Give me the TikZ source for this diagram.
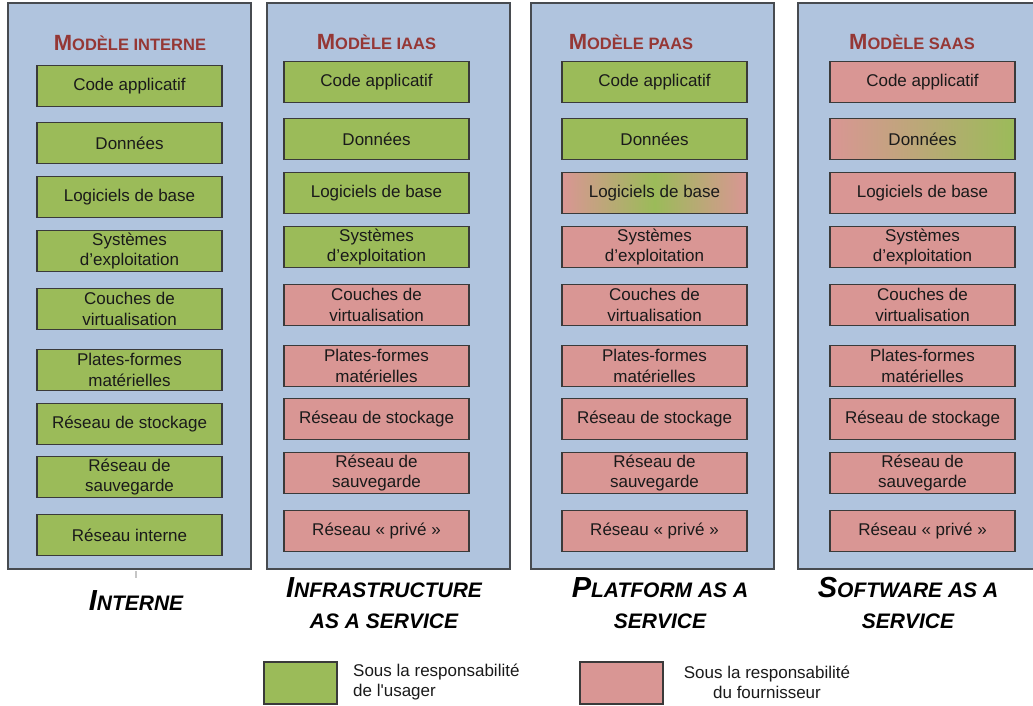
\documentclass[tikz,border=0pt]{standalone}
\usepackage{fontspec}
\setmainfont{Liberation Sans}
\usetikzlibrary{shadings}
\definecolor{panelbg}{HTML}{B0C4DE}
\definecolor{panelline}{HTML}{474B50}
\definecolor{usr}{HTML}{9BBB59}
\definecolor{frn}{HTML}{D99694}
\definecolor{hdrred}{HTML}{953735}
\definecolor{txt}{HTML}{1A1A1A}
\definecolor{boxline}{HTML}{3A3A3A}
\newcommand\hdrtxt[2]{{\fontsize{22}{26}\selectfont #1}{\fontsize{16.5}{19}\selectfont #2}}
\newcommand\labbig[2]{{\fontsize{29}{31}\selectfont #1}{\fontsize{21}{31}\selectfont #2}}
\newcommand\labsml[1]{{\fontsize{21}{31}\selectfont #1}}
\tikzset{
  panel/.style={draw=panelline, line width=1.4pt, fill=panelbg, minimum width=243pt, minimum height=566pt, inner sep=0pt},
  cell/.style={draw=boxline, line width=1.1pt, minimum width=185pt, minimum height=41pt, inner sep=0pt, align=center, text=txt, font=\fontsize{17}{20.5}\selectfont},
  ucell/.style={cell, fill=usr},
  fcell/.style={cell, fill=frn},
  hdr/.style={text=hdrred, font=\bfseries, inner sep=0pt},
  blab/.style={font=\bfseries\itshape, align=center, inner sep=0pt, text=black},
  legbox/.style={draw=boxline, line width=1.1pt, minimum height=42pt, inner sep=0pt},
  legtxt/.style={font=\fontsize{17}{20}\selectfont, text=txt, inner sep=0pt}
}
\begin{document}
\begin{tikzpicture}[x=1pt,y=-1pt]
\useasboundingbox (0,0) rectangle (1033,706);
% panels
\node[panel] (p1) at (129.5,286) {};
\node[panel] (p2) at (388.5,286) {};
\node[panel] (p3) at (652.5,286) {};
\node[panel] (p4) at (919.5,286) {};
% headers
\node[hdr] (h1) at (130,43) {\hdrtxt{M}{ODÈLE INTERNE}};
\node[hdr] (h2) at (376.5,42) {\hdrtxt{M}{ODÈLE IAAS}};
\node[hdr] (h3) at (631,42) {\hdrtxt{M}{ODÈLE PAAS}};
\node[hdr] (h4) at (912,42) {\hdrtxt{M}{ODÈLE SAAS}};
% panel 1
\node[ucell] (a1) at (129.5,86) {Code applicatif};
\node[ucell] (a2) at (129.5,143) {Données};
\node[ucell] (a3) at (129.5,197) {Logiciels de base};
\node[ucell] (a4) at (129.5,251) {Systèmes\\d’exploitation};
\node[ucell] (a5) at (129.5,309) {Couches de\\virtualisation};
\node[ucell] (a6) at (129.5,370) {Plates-formes\\matérielles};
\node[ucell] (a7) at (129.5,424) {Réseau de stockage};
\node[ucell] (a8) at (129.5,477) {Réseau de\\sauvegarde};
\node[ucell] (a9) at (129.5,535) {Réseau interne};
% panel 2
\node[ucell] (b1) at (376.5,82) {Code applicatif};
\node[ucell] (b2) at (376.5,139) {Données};
\node[ucell] (b3) at (376.5,193) {Logiciels de base};
\node[ucell] (b4) at (376.5,247) {Systèmes\\d’exploitation};
\node[fcell] (b5) at (376.5,305) {Couches de\\virtualisation};
\node[fcell] (b6) at (376.5,366) {Plates-formes\\matérielles};
\node[fcell] (b7) at (376.5,419) {Réseau de stockage};
\node[fcell] (b8) at (376.5,473) {Réseau de\\sauvegarde};
\node[fcell] (b9) at (376.5,531) {Réseau « privé »};
% panel 3
\node[ucell] (c1) at (654.5,82) {Code applicatif};
\node[ucell] (c2) at (654.5,139) {Données};
\node[cell, left color=frn, right color=frn, middle color=usr] (c3) at (654.5,193) {Logiciels de base};
\node[fcell] (c4) at (654.5,247) {Systèmes\\d’exploitation};
\node[fcell] (c5) at (654.5,305) {Couches de\\virtualisation};
\node[fcell] (c6) at (654.5,366) {Plates-formes\\matérielles};
\node[fcell] (c7) at (654.5,419) {Réseau de stockage};
\node[fcell] (c8) at (654.5,473) {Réseau de\\sauvegarde};
\node[fcell] (c9) at (654.5,531) {Réseau « privé »};
% panel 4
\node[fcell] (d1) at (922.5,82) {Code applicatif};
\node[cell, left color=frn, right color=usr] (d2) at (922.5,139) {Données};
\node[fcell] (d3) at (922.5,193) {Logiciels de base};
\node[fcell] (d4) at (922.5,247) {Systèmes\\d’exploitation};
\node[fcell] (d5) at (922.5,305) {Couches de\\virtualisation};
\node[fcell] (d6) at (922.5,366) {Plates-formes\\matérielles};
\node[fcell] (d7) at (922.5,419) {Réseau de stockage};
\node[fcell] (d8) at (922.5,473) {Réseau de\\sauvegarde};
\node[fcell] (d9) at (922.5,531) {Réseau « privé »};
% small tick
\coordinate (t1) at (136,571);
\coordinate (t2) at (136,578);
\draw[gray!45, line width=1.5pt] (t1) -- (t2);
% bottom labels
\node[blab, anchor=base] (l1) at (136,610) {\labbig{I}{NTERNE}};
\node[blab, anchor=base] (l2a) at (384,597) {\labbig{I}{NFRASTRUCTURE}};
\node[blab, anchor=base] (l2b) at (384,628) {\labsml{AS A SERVICE}};
\node[blab, anchor=base] (l3a) at (660,597) {\labbig{P}{LATFORM AS A}};
\node[blab, anchor=base] (l3b) at (660,628) {\labsml{SERVICE}};
\node[blab, anchor=base] (l4a) at (908,597) {\labbig{S}{OFTWARE AS A}};
\node[blab, anchor=base] (l4b) at (908,628) {\labsml{SERVICE}};
% legend
\node[legbox, fill=usr, minimum width=73pt] (g1) at (300.5,683) {};
\node[legtxt, anchor=west, align=left] (g1t) at (353,682) {Sous la responsabilité\\de l\textquotesingle usager};
\node[legbox, fill=frn, minimum width=83pt] (g2) at (621.5,683) {};
\node[legtxt, align=center] (g2t) at (767,682) {Sous la responsabilité\\du fournisseur};
\end{tikzpicture}
\end{document}
